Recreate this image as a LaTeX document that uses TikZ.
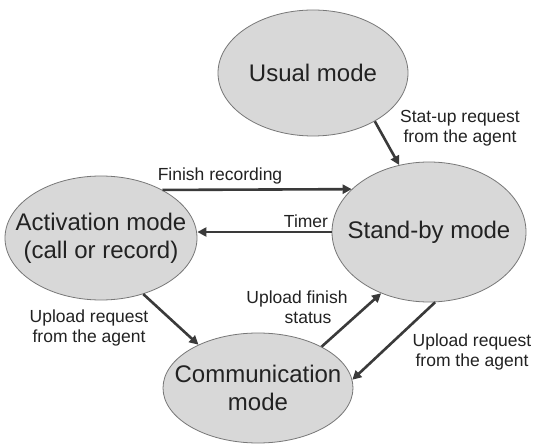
\documentclass[tikz,border=0pt]{standalone}
\usepackage{fontspec}
\setmainfont{Liberation Sans}
\usetikzlibrary{shapes.geometric,arrows.meta}
\definecolor{statefill}{HTML}{D8D8D8}
\definecolor{stateline}{HTML}{777777}
\definecolor{arrowcol}{HTML}{3A3A3A}
\definecolor{txt}{HTML}{222222}
\tikzset{
  state/.style={ellipse, draw=stateline, line width=0.8pt, fill=statefill,
    inner sep=-40pt, align=center, text=txt,
    font=\fontsize{24}{28}\selectfont},
  lbl/.style={align=center, text=txt, inner sep=0pt,
    font=\fontsize{17.5}{20}\selectfont},
  trans/.style={draw=arrowcol, line width=2.6pt,
    -{Triangle[length=9pt,width=9pt]}}
}
\begin{document}
\begin{tikzpicture}[x=1pt,y=-1pt]
  \fill[white] (0,0) rectangle (538,446);
  \useasboundingbox (0,0) rectangle (538,446);

  % states
  \node[state, minimum width=190pt, minimum height=126pt] (usual) at (313,73) {Usual mode};
  \node[state, minimum width=194pt, minimum height=140pt] (standby) at (429,232) {Stand-by mode};
  \node[state, minimum width=192pt, minimum height=124pt] (activ) at (101,238) {Activation mode\\(call or record)};
  \node[state, minimum width=190pt, minimum height=110pt] (comm) at (258,388) {Communication\\mode};

  % transitions
  \draw[trans] (usual.-38) -- (standby.114);
  \draw[trans] (activ.38) -- (standby.151);
  \draw[trans] (standby.west) -- (activ.east |- standby.west);
  \draw[trans] (activ.-53) -- (comm.144);
  \draw[trans] (comm.33) -- (standby.232);
  \draw[trans] (standby.-85) -- (comm.5);

  % transition labels
  \node[lbl] (l1) at (460,128) {Stat-up request\\from the agent};
  \node[lbl] (l2) at (220,176) {Finish recording};
  \node[lbl] (l3) at (306,221) {Timer};
  \node[lbl] (l4) at (89,328) {Upload request\\from the agent};
  \node[lbl] (l5) at (297,307) {Upload finish\\\hspace*{22pt}status};
  \node[lbl] (l6) at (472,352) {Upload request\\from the agent};
\end{tikzpicture}
\end{document}
